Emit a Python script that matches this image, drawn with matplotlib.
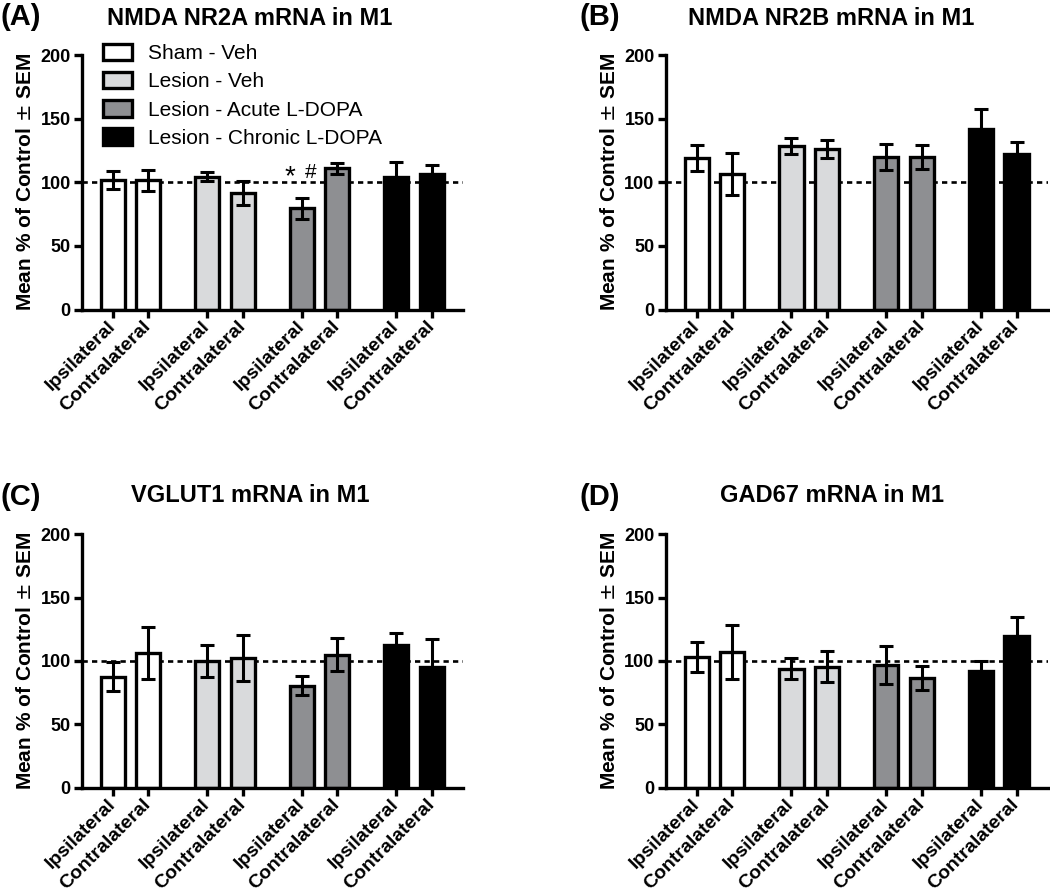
import matplotlib
matplotlib.use('Agg')
import matplotlib.pyplot as plt
from matplotlib.patches import Patch

plt.rcParams['font.family'] = ['Liberation Sans', 'DejaVu Sans']
plt.rcParams['mathtext.fontset'] = 'dejavusans'

# ---------------- data ----------------
groups = ['Sham - Veh', 'Lesion - Veh', 'Lesion - Acute L-DOPA', 'Lesion - Chronic L-DOPA']
sides = ['Ipsilateral', 'Contralateral']
group_colors = ['#ffffff', '#d9dadc', '#8e8f92', '#000000']

panel_labels = ['(A)', '(B)', '(C)', '(D)']
titles = ['NMDA NR2A mRNA in M1', 'NMDA NR2B mRNA in M1',
          'VGLUT1 mRNA in M1', 'GAD67 mRNA in M1']

# order: Sham ipsi, Sham contra, LesVeh ipsi, LesVeh contra, Acute ipsi, Acute contra, Chronic ipsi, Chronic contra
nr2a_mean = [102, 101.5, 104.5, 91.5, 79.5, 111, 104, 106.5]
nr2a_sem = [7, 8, 3.5, 9.5, 8.5, 4.5, 12, 7]
nr2b_mean = [119, 106.5, 128.5, 126, 120, 120, 142, 122]
nr2b_sem = [10.5, 16.5, 6.5, 7, 10, 9.5, 15.5, 9.5]
vglut1_mean = [87.5, 106.5, 100, 102.5, 80.5, 105, 112.5, 95]
vglut1_sem = [11.5, 20.5, 12.5, 18, 7.5, 13, 9.5, 22]
gad67_mean = [103, 107, 94, 95.5, 96.5, 86.5, 92, 120]
gad67_sem = [12, 21, 8.5, 12, 15, 9.5, 8, 15]

means = [nr2a_mean, nr2b_mean, vglut1_mean, gad67_mean]
sems = [nr2a_sem, nr2b_sem, vglut1_sem, gad67_sem]

# significance markers in panel A (Acute L-DOPA ipsilateral)
sig_marks = ['*', '#']

# ---------------- layout ----------------
fig = plt.figure(figsize=(10.5, 8.93), dpi=100)

axes_rects = [
    [0.078, 0.6534, 0.363, 0.285],
    [0.634, 0.6534, 0.364, 0.285],
    [0.078, 0.1179, 0.363, 0.284],
    [0.634, 0.1179, 0.364, 0.284],
]
label_pos = [(0.0, 0.981), (0.552, 0.981), (0.0, 0.443), (0.552, 0.443)]
title_pos = [(0.238, 0.979), (0.792, 0.979), (0.238, 0.445), (0.792, 0.445)]

group_step = 2.66
positions = []
for gi in range(len(groups)):
    for si in range(len(sides)):
        positions.append(gi * group_step + si)
bar_colors = [group_colors[i // 2] for i in range(8)]
tick_labels = [sides[i % 2] for i in range(8)]

LW = 2.4

for k in range(4):
    ax = fig.add_axes(axes_rects[k])
    ax.axhline(100, color='black', lw=1.9, ls=(0, (2.0, 1.6)), zorder=1)
    ax.bar(positions, means[k], width=0.68, color=bar_colors,
           edgecolor='black', linewidth=LW, zorder=2)
    ax.errorbar(positions, means[k], yerr=sems[k], fmt='none', ecolor='black',
                elinewidth=2.2, capsize=5, capthick=2.2, zorder=3)

    ax.set_xlim(-0.87, positions[-1] + 0.88)
    ax.set_ylim(0, 200)
    ax.set_yticks([0, 50, 100, 150, 200])
    ax.set_xticks(positions)
    ax.set_xticklabels(tick_labels, rotation=45, ha='right', va='center',
                       rotation_mode='anchor', fontsize=14, fontweight='bold')
    for lab in ax.get_yticklabels():
        lab.set_fontsize(13)
        lab.set_fontweight('bold')
    ax.tick_params(axis='both', direction='out', length=6, width=LW, pad=2)
    ax.tick_params(axis='x', pad=4)
    for s in ['top', 'right']:
        ax.spines[s].set_visible(False)
    for s in ['left', 'bottom']:
        ax.spines[s].set_linewidth(LW)
        ax.spines[s].set_capstyle('projecting')
    ax.set_ylabel('Mean % of Control $\\pm$ SEM', fontsize=15,
                  fontweight='bold', labelpad=4)

    fig.text(label_pos[k][0], label_pos[k][1], panel_labels[k], fontsize=21,
             fontweight='bold', ha='left', va='center')
    fig.text(title_pos[k][0], title_pos[k][1], titles[k], fontsize=17,
             fontweight='bold', ha='center', va='center')

    if k == 0:
        handles = [Patch(facecolor=c, edgecolor='black', linewidth=LW) for c in group_colors]
        ax.legend(handles, groups, loc='upper left', bbox_to_anchor=(0.055, 1.045),
                  frameon=False, fontsize=15, handlelength=1.4, handleheight=0.85,
                  handletextpad=0.75, labelspacing=0.42, borderpad=0, borderaxespad=0)
        xa = positions[4]
        ax.text(xa - 0.33, 104, sig_marks[0], fontsize=20, ha='center', va='center')
        ax.text(xa + 0.25, 108, sig_marks[1], fontsize=15, ha='center', va='center')

fig.savefig('out.png', dpi=100)
